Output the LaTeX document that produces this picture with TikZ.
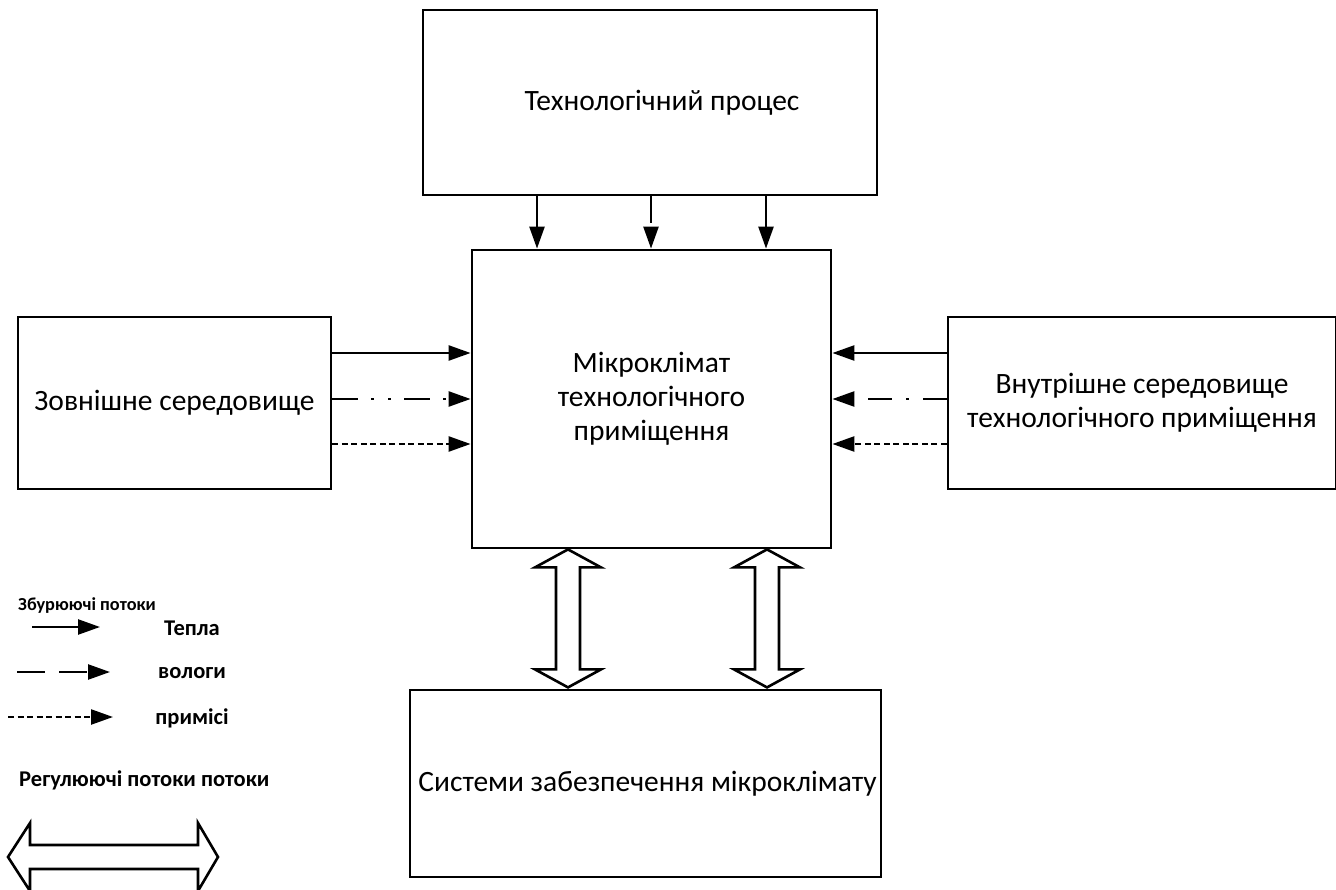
\documentclass[tikz,border=0pt]{standalone}
\usepackage{fontspec}
\setmainfont{Carlito}
\usetikzlibrary{arrows.meta}
\usetikzlibrary{calc}
\usetikzlibrary{positioning}

\tikzset{
  block/.style={draw, line width=2.8pt, inner sep=0pt, align=center,
    font=\fontsize{29.5}{34}\selectfont},
  flow/.style={line width=2.4pt, -{Triangle[length=22pt,width=15pt]}},
  hollow/.style={draw, line width=2.6pt, line join=miter, fill=white},
  legend/.style={font=\bfseries\fontsize{22.5}{26}\selectfont, inner sep=0pt},
  dashdot/.style={dash pattern=on 26pt off 13pt on 3pt off 14pt on 3pt off 13pt},
  dashdotr/.style={dash pattern=on 24pt off 14pt on 3pt off 14pt},
  dots/.style={dash pattern=on 6pt off 3.5pt},
  longdash/.style={dash pattern=on 27pt off 14pt},
}

\begin{document}
\begin{tikzpicture}[x=1pt, y=-1pt]
  \useasboundingbox (0,0) rectangle (1336,890);

  % blocks
  \node[block, minimum width=454pt, minimum height=185pt] (tech) at (650,102.5)
    {\hspace*{24pt}Технологічний процес};
  \node[block, minimum width=359pt, minimum height=298pt] (micro) at (651.5,399)
    {Мікроклімат\\технологічного\\приміщення};
  \node[block, minimum width=313pt, minimum height=172pt] (outer) at (174.5,403)
    {Зовнішне середовище};
  \node[block, minimum width=388pt, minimum height=172pt] (inner) at (1142,403)
    {Внутрішне середовище\\технологічного приміщення};
  \node[block, minimum width=471pt, minimum height=187pt] (systems) at (645.5,783.5)
    {\hspace*{4pt}Системи забезпечення мікроклімату};

  % disturbing flows
  \foreach \xx/\ls in {537/solid, 651/longdash, 766/solid} {
    \coordinate (v) at (\xx,0);
    \draw[flow,\ls] (tech.south -| v) -- (micro.north -| v);
  }
  \foreach \yy/\ls/\rs in {353/solid/solid, 399/dashdot/dashdotr, 444/dots/dots} {
    \coordinate (h) at (0,\yy);
    \draw[flow,\ls] (outer.east |- h) -- (micro.west |- h);
    \draw[flow,\rs] (inner.west |- h) -- (micro.east |- h);
  }

  % regulating flows
  \foreach \xx in {568,767} {
    \coordinate (v) at (\xx,0);
    \draw[hollow] (micro.south -| v) -- ++(-33,18) -- ++(21,0) -- ++(0,102)
      -- ++(-21,0) -- ++(33,18) -- ++(33,-18) -- ++(-21,0) -- ++(0,-102)
      -- ++(21,0) -- cycle;
  }

  % legend
  \node[legend, anchor=west, font=\bfseries\fontsize{18.3}{22}\selectfont]
    (disturb) at (18,606) {Збурюючі потоки};
  \node[legend] (heat) at (192,628) {Тепла};
  \node[legend] (moist) at (192,673) {вологи};
  \node[legend] (admix) at (192,718) {примісі};
  \coordinate (l1) at (32,627);
  \coordinate (l2) at (17,672);
  \coordinate (l3) at (8,717);
  \draw[flow] (l1) -- ++(68,0);
  \draw[flow, dash pattern=on 28pt off 14pt] (l2) -- ++(93,0);
  \draw[flow, dots] (l3) -- ++(105,0);
  \node[legend, anchor=west] (regul) at (19,780) {Регулюючі потоки потоки};
  \coordinate (l4) at (8,857);
  \draw[hollow] (l4) -- ++(22,-34) -- ++(0,22) -- ++(168,0) -- ++(0,-22)
    -- ++(20,34) -- ++(-20,34) -- ++(0,-22) -- ++(-168,0) -- ++(0,22) -- cycle;

\end{tikzpicture}
\end{document}
